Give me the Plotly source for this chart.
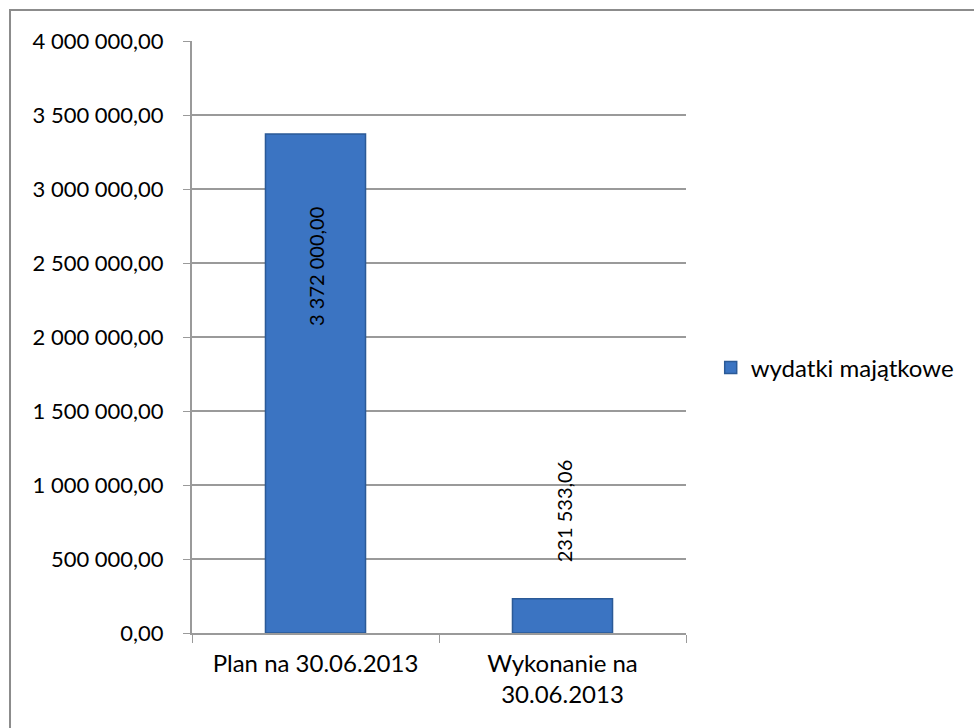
import plotly.graph_objects as go

# Capital expenditure: plan vs. execution as of 30.06.2013
categories = ["Plan na 30.06.2013", "Wykonanie na<br>30.06.2013"]
values = [3372000.00, 231533.06]
value_labels = ["3 372 000,00", "231 533,06"]
series_name = "wydatki majątkowe"

y_tickvals = [0, 500000, 1000000, 1500000, 2000000, 2500000, 3000000, 3500000, 4000000]
y_ticktext = ["0,00", "500 000,00", "1 000 000,00", "1 500 000,00", "2 000 000,00",
              "2 500 000,00", "3 000 000,00", "3 500 000,00", "4 000 000,00"]

FONT = "Lato"
GRID = "#9a9a9a"

fig = go.Figure()
fig.add_trace(go.Bar(
    x=categories,
    y=values,
    name=series_name,
    width=0.405,
    marker=dict(color="#3B74C2", line=dict(color="#2B5A97", width=1.5)),
    showlegend=True,
))

# rotated value labels, one per bar
label_shift = [(-71, "top"), (34, "bottom")]
for cat, val, txt, (shift, anchor) in zip(categories, values, value_labels, label_shift):
    fig.add_annotation(
        x=cat, y=val, text=txt, textangle=-90, showarrow=False,
        yanchor=anchor, yshift=shift, xshift=1,
        font=dict(family=FONT, size=20, color="black"),
    )

# chart-area border
fig.add_shape(
    type="rect", xref="paper", yref="paper",
    x0=-0.3684, x1=1.62, y0=-0.18, y1=1.0524,
    line=dict(color="#8c8c8c", width=2), fillcolor="rgba(0,0,0,0)", layer="below",
)

fig.update_layout(
    width=974, height=728,
    margin=dict(l=192, r=288, t=41, b=95),
    paper_bgcolor="white", plot_bgcolor="white",
    font=dict(family=FONT, size=22, color="black"),
    bargap=0.595,
    legend=dict(
        x=1.05, y=0.4476, xanchor="left", yanchor="middle",
        font=dict(family=FONT, size=24, color="black"),
        bgcolor="rgba(0,0,0,0)", borderwidth=0, tracegroupgap=0,
    ),
    xaxis=dict(
        tickson="boundaries", ticks="outside", ticklen=8, tickcolor=GRID,
        showline=True, linecolor=GRID, linewidth=2,
        showgrid=False, tickfont=dict(family=FONT, size=24),
        ticklabelstandoff=8, automargin=False,
    ),
    yaxis=dict(
        range=[0, 4000000], tickvals=y_tickvals, ticktext=y_ticktext,
        ticks="outside", ticklen=7, tickcolor=GRID,
        showline=True, linecolor=GRID, linewidth=2,
        showgrid=True, gridcolor=GRID, gridwidth=1.5,
        zeroline=False, ticklabelstandoff=15, automargin=False,
        tickfont=dict(family=FONT, size=22),
    ),
)

fig.write_html("out.html")
